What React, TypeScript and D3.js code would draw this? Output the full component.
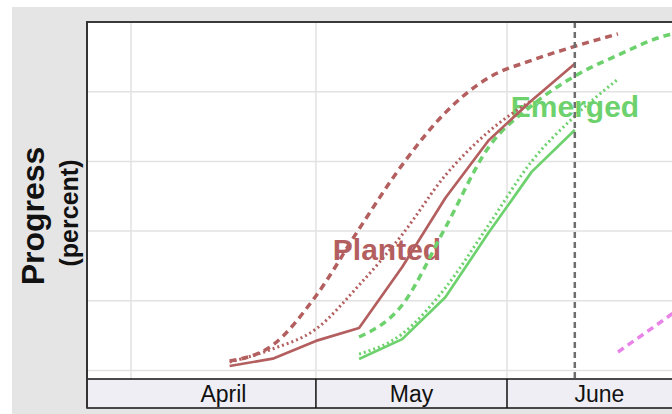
import React from "react";
import * as d3 from "d3";

const YEAR = 2025;
const weekDates = ["04-17", "04-24", "05-01", "05-08", "05-15", "05-22", "05-29", "06-05", "06-12", "06-19", "06-26", "07-03"];
const monthStarts = ["04-01", "05-01", "06-01", "07-01"];
const monthLabels = ["April", "May", "June"];
const yTicks = [0, 20, 40, 60, 80, 100];
const currentWeek = "06-12";

const plantedCurrent = [1.3, 3.4, 8.5, 12.2, 29.7, 49.5, 66, 77.5, 88, null, null, null];
const plantedLastYear = [2.4, 6.2, 11.9, 24.5, 39, 56, 68.5, 77.5, null, null, null, null];
const plantedAverage = [2.7, 7.3, 21.4, 40.6, 59, 74, 84, 89, 93, 96.6, null, null];
const emergedCurrent = [null, null, null, 3.3, 9, 21, 39.5, 57, 69, null, null, null];
const emergedLastYear = [null, null, null, 4.7, 10.5, 23.7, 41.7, 60, 73, 83.6, null, null];
const emergedAverage = [null, null, null, 9.6, 18.8, 41, 64, 76, 84.5, 90.5, 95.7, 98];
const silkedAverage = [null, null, null, null, null, null, null, null, null, 5.3, 14, 23];

const toDate = (md: string) => {
  const [m, d] = md.split("-").map(Number);
  return new Date(Date.UTC(YEAR, m - 1, d));
};

const BROWN = "#b45f5f";
const GREEN = "#6dd26d";
const VIOLET = "#e884e8";

export default function App() {
  const W = 672, H = 414;
  const left = 87, top = 22, right = 700, plotBottom = 379, bandBottom = 408;
  const x = d3.scaleUtc().domain([toDate("04-01"), toDate("06-01")]).range([131, 507]);
  const y = d3.scaleLinear().domain([0, 100]).range([370.5, top]);

  const mk = (vals: (number | null)[], smooth: boolean) => {
    const pts = weekDates.map((d, i) => [toDate(d), vals[i]] as [Date, number | null]);
    return d3.line<[Date, number | null]>()
      .defined((p) => p[1] != null)
      .curve(smooth ? d3.curveMonotoneX : d3.curveLinear)
      .x((p) => x(p[0]))
      .y((p) => y(p[1] as number))(pts) || "";
  };

  const series = [
    { v: plantedAverage, c: BROWN, w: 3.5, dash: "7,5", s: true },
    { v: plantedLastYear, c: BROWN, w: 3, dash: "2,3", s: true },
    { v: emergedAverage, c: GREEN, w: 3.5, dash: "7,5", s: true },
    { v: emergedLastYear, c: GREEN, w: 3, dash: "2,3", s: true },
    { v: silkedAverage, c: VIOLET, w: 3.5, dash: "7,5", s: true },
    { v: plantedCurrent, c: BROWN, w: 2.7, dash: "", s: false },
    { v: emergedCurrent, c: GREEN, w: 2.7, dash: "", s: false },
  ];

  const ms = monthStarts.map(toDate);
  const font = "'Liberation Sans', Arial, sans-serif";
  const cx = x(toDate(currentWeek));

  return (
    <div style={{ position: "fixed", left: 0, top: 0 }}>
      <svg width={W} height={H} style={{ display: "block" }}>
        <defs>
          <clipPath id="plot">
            <rect x={left} y={top} width={right - left} height={plotBottom - top} />
          </clipPath>
        </defs>
        <rect x={0} y={0} width={W} height={H} fill="#ffffff" />
        <rect x={12} y={7} width={W - 12} height={H - 7} fill="#e5e5e5" />
        <rect x={left} y={top} width={right - left} height={plotBottom - top} fill="#ffffff" />
        <g clipPath="url(#plot)">
          {yTicks.filter((t) => t < 100).map((t) => (
            <line key={t} x1={left} x2={right} y1={y(t)} y2={y(t)} stroke="#e2e2e2" strokeWidth={1.5} />
          ))}
          {ms.map((d, i) => (
            <line key={i} x1={x(d)} x2={x(d)} y1={top} y2={plotBottom} stroke="#e2e2e2" strokeWidth={1.5} />
          ))}
        </g>
        <text x={387} y={260} textAnchor="middle" fontFamily={font} fontWeight="bold" fontSize={30} fill={BROWN}>Planted</text>
        <text x={575} y={117} textAnchor="middle" fontFamily={font} fontWeight="bold" fontSize={30} fill={GREEN}>Emerged</text>
        <g clipPath="url(#plot)">
          {series.map((s, i) => (
            <path key={i} d={mk(s.v, s.s)} fill="none" stroke={s.c} strokeWidth={s.w}
              strokeDasharray={s.dash || undefined} strokeLinejoin="round" />
          ))}
          <line x1={cx} x2={cx} y1={top} y2={plotBottom} stroke="#6e6e6e" strokeWidth={2.5} strokeDasharray="6,4" />
        </g>
        <rect x={left} y={plotBottom} width={right - left} height={bandBottom - plotBottom} fill="#eeeef4" stroke="#111" strokeWidth={1.5} />
        {ms.slice(1, 3).map((d, i) => (
          <line key={i} x1={x(d)} x2={x(d)} y1={plotBottom} y2={bandBottom} stroke="#111" strokeWidth={1.5} />
        ))}
        {monthLabels.map((m, i) => {
          const a = Math.max(left, x(ms[i]));
          const b = Math.min(right, x(ms[i + 1]));
          return (
            <text key={m} x={(a + b) / 2} y={402} textAnchor="middle" fontFamily={font} fontSize={23} fill="#111">{m}</text>
          );
        })}
        <line x1={left} x2={W} y1={top} y2={top} stroke="#3a3a3a" strokeWidth={2} />
        <line x1={left} x2={left} y1={top - 1} y2={bandBottom} stroke="#333" strokeWidth={2} />
        <text transform={`translate(44,216) rotate(-90)`} textAnchor="middle" fontFamily={font} fontWeight="bold" fontSize={32} fill="#111">Progress</text>
        <text transform={`translate(78,213) rotate(-90)`} textAnchor="middle" fontFamily={font} fontWeight="bold" fontSize={25} fill="#111">(percent)</text>
      </svg>
    </div>
  );
}
